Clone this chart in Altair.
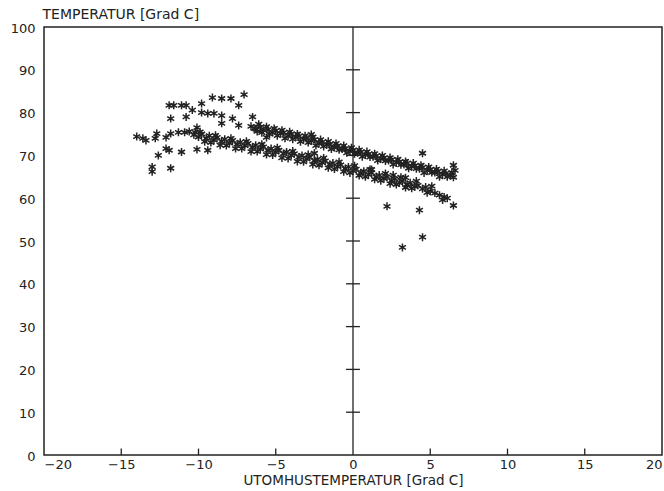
import altair as alt
import pandas as pd

# Scattered points (mostly on the cold side, and a few outliers)
scatter_x = [-7.05, -9.1, -8.5, -7.9, -7.4, -11.9, -11.6, -11.1, -10.8, -9.8,
             -10.4, -11.8, -10.8, -9.8, -9.4, -9.0, -8.5, -7.8, -8.5, -7.4,
             -6.5, -6.4, -10.1, -14.0, -13.6, -13.4, -12.8, -12.7, -11.8, -12.1,
             -11.3, -10.9, -10.6, -10.2, -12.1, -11.9, -11.1, -10.1, -9.4, -12.6,
             -13.0, -13.0, -11.8, -5.6, -2.7, -2.5, 1.2, 4.5, 6.5, 2.2,
             4.3, 6.5, 4.5, 3.2, 2.6, 3.4]
scatter_y = [84.2, 83.5, 83.3, 83.3, 81.7, 81.7, 81.7, 81.7, 81.7, 82.1,
             80.6, 78.6, 79.0, 80.0, 79.8, 79.8, 79.3, 78.6, 77.5, 77.0,
             79.0, 76.3, 76.5, 74.4, 74.0, 73.5, 74.0, 75.1, 75.1, 74.2,
             75.4, 75.4, 75.6, 75.4, 71.6, 71.2, 70.8, 71.4, 71.2, 70.0,
             67.3, 66.2, 67.0, 74.2, 74.9, 70.5, 66.7, 70.5, 67.7, 58.1,
             57.2, 58.3, 50.9, 48.5, 65.4, 64.8]

# Upper band
upper_x = [-6.6, -6.3, -6.0, -5.8, -5.5, -5.2, -5.0, -4.7, -4.5, -4.2,
           -4.0, -3.7, -3.5, -3.2, -3.0, -2.7, -2.5, -2.2, -2.0, -1.7,
           -1.5, -1.2, -1.0, -0.7, -0.5, -0.2, 0.0, 0.3, 0.5, 0.8,
           1.0, 1.3, 1.5, 1.8, 2.0, 2.3, 2.5, 2.8, 3.0, 3.3,
           3.5, 3.8, 4.0, 4.3, 4.5, 4.8, 5.0, 5.3, 5.5, 5.8,
           6.0, 6.3, 6.5, 6.6, -6.2, -5.4, -4.4, -3.4, -2.4, -1.4,
           -0.4, 0.6, 1.6, 2.6, 3.6, 4.6, 5.6,
           -6.1, -5.6, -5.1, -4.6, -4.1, -3.6, -3.1, -2.6, -2.1, -1.6,
           -1.1, -0.6, -0.1, 0.4, 0.9, 1.4, 1.9, 2.4, 2.9, 3.4,
           3.9, 4.4, 4.9, 5.4, 5.9, 6.4,
           -5.9, -4.9, -3.9, -2.9, -1.9, -0.9, 0.1, 1.1, 2.1, 3.1,
           4.1, 5.1, 6.1]
upper_y = [76.8, 76.2, 76.6, 75.9, 76.0, 75.4, 75.8, 75.1, 75.3, 74.6,
           75.0, 74.3, 74.5, 73.8, 74.0, 73.4, 73.7, 72.9, 73.1, 72.5,
           72.6, 71.9, 72.2, 71.5, 71.6, 71.0, 71.2, 70.6, 70.8, 70.1,
           70.3, 69.7, 69.9, 69.2, 69.4, 68.8, 69.0, 68.3, 68.5, 67.9,
           68.2, 67.4, 67.6, 66.9, 67.2, 66.5, 66.7, 66.0, 66.3, 65.6,
           65.8, 65.3, 64.9, 66.5, 75.6, 75.0, 74.0, 73.2, 72.3, 71.5,
           70.6, 69.7, 68.8, 67.9, 67.0, 65.9, 65.0,
           77.3, 76.7, 76.3, 75.9, 75.5, 75.0, 74.6, 74.3, 73.7, 73.3,
           72.8, 72.3, 71.8, 71.3, 70.9, 70.4, 70.0, 69.5, 69.1, 68.6,
           68.2, 67.7, 67.3, 66.8, 66.4, 66.0,
           75.3, 74.6, 73.8, 73.0, 72.1, 71.3, 70.4, 69.6, 68.7, 67.8,
           66.9, 66.0, 65.0]

# Lower band
lower_x = [-10.3, -10.0, -9.8, -9.5, -9.3, -9.0, -8.8, -8.5, -8.3, -8.0,
           -7.8, -7.5, -7.3, -7.0, -6.8, -6.5, -6.3, -6.0, -5.8, -5.5,
           -5.3, -5.0, -4.8, -4.5, -4.3, -4.0, -3.8, -3.5, -3.3, -3.0,
           -2.8, -2.5, -2.3, -2.0, -1.8, -1.5, -1.3, -1.0, -0.8, -0.5,
           -0.3, 0.0, 0.2, 0.5, 0.7, 1.0, 1.2, 1.5, 1.7, 2.0,
           2.2, 2.5, 2.7, 3.0, 3.2, 3.5, 3.7, 4.0, 4.2, 4.5,
           4.7, 5.0, 5.3, 5.6, 5.9, 6.1, -9.6, -8.6, -7.6, -6.6,
           -5.6, -4.6, -3.6, -2.6, -1.6, -0.6, 0.4, 1.4, 2.4, 3.4,
           -9.9, -8.9, -7.9, -6.9, -5.9, -4.9, -3.9, -2.9, -1.9, -0.9,
           0.1, 1.1, 2.1, 3.1, 4.1, 5.1,
           -9.2, -8.2, -7.2, -6.2, -5.2, -4.2, -3.2, -2.2, -1.2, -0.2,
           0.8, 1.8, 2.8, 3.8, 4.8, 5.8]
lower_y = [74.8, 74.3, 75.0, 74.0, 74.6, 73.6, 74.2, 73.3, 73.8, 72.9,
           73.5, 72.6, 73.1, 72.3, 72.8, 71.9, 72.4, 71.5, 72.0, 71.2,
           71.6, 70.8, 71.2, 70.4, 70.8, 70.0, 70.4, 69.6, 70.0, 69.2,
           69.6, 68.8, 69.1, 68.3, 68.7, 67.9, 68.2, 67.4, 67.8, 66.9,
           67.3, 66.4, 66.8, 65.9, 66.3, 65.5, 65.9, 65.0, 65.4, 64.6,
           65.0, 64.1, 64.5, 63.6, 64.0, 63.2, 63.6, 62.7, 63.0, 62.2,
           62.6, 61.6, 61.2, 60.7, 60.3, 60.0, 73.2, 72.4, 71.6, 70.9,
           70.2, 69.4, 68.6, 67.9, 67.1, 66.2, 65.3, 64.4, 63.4, 62.5,
           75.5, 74.7, 74.0, 73.3, 72.6, 71.8, 71.0, 70.2, 69.4, 68.5,
           67.6, 66.7, 65.8, 64.9, 64.0, 62.8,
           73.0, 72.3, 71.6, 70.9, 70.1, 69.3, 68.5, 67.7, 66.8, 65.9,
           65.0, 64.1, 63.2, 62.3, 61.3, 59.6]

x_ticks = [-20, -15, -10, -5, 0, 5, 10, 15, 20]
y_ticks = [0, 10, 20, 30, 40, 50, 60, 70, 80, 90, 100]
inner_x_ticks = [-15, -10, -5, 5, 10, 15]
zero_line_ticks = [10, 20, 30, 40, 50, 60, 70, 80, 90]

pts = pd.DataFrame({
    "x": scatter_x + upper_x + lower_x,
    "y": scatter_y + upper_y + lower_y,
})

FONT = "DejaVu Sans"
INK = "#222222"
ASTERISK = "M0,-1L0,1M-0.87,-0.5L0.87,0.5M-0.87,0.5L0.87,-0.5"

xscale = alt.Scale(domain=[-20, 20], nice=False, zero=False)
yscale = alt.Scale(domain=[0, 100], nice=False)

points = alt.Chart(pts).mark_point(
    shape=ASTERISK, filled=False, stroke=INK, strokeWidth=1.5, size=64, opacity=1
).encode(
    x=alt.X("x:Q", scale=xscale, title="UTOMHUSTEMPERATUR  [Grad C]",
            axis=alt.Axis(values=x_ticks, ticks=False, domain=False, grid=False,
                          labelFont=FONT, labelFontSize=13, labelColor=INK,
                          labelPadding=3, titleFont=FONT, titleFontSize=13.5,
                          titleFontWeight="normal", titleColor=INK, titlePadding=2,
                          labelFlush=True)),
    y=alt.Y("y:Q", scale=yscale, title="TEMPERATUR  [Grad C]",
            axis=alt.Axis(values=y_ticks, ticks=False, domain=False, grid=False,
                          labelFont=FONT, labelFontSize=13, labelColor=INK,
                          labelPadding=9, labelOffset=1, titleFont=FONT, titleFontSize=14,
                          titleFontWeight="normal", titleColor=INK,
                          titleAngle=0, titleAlign="left", titleBaseline="middle",
                          titleX=-2, titleY=-13)),
)

zero_line = alt.Chart(pd.DataFrame({"x": [0], "y": [0], "y2": [100]})).mark_rule(
    color=INK, strokeWidth=1.3
).encode(x=alt.X("x:Q", scale=xscale), y=alt.Y("y:Q", scale=yscale), y2="y2:Q")

zt = pd.DataFrame({"y": zero_line_ticks,
                   "x1": [-0.45] * len(zero_line_ticks),
                   "x2": [0.45] * len(zero_line_ticks)})
zero_ticks = alt.Chart(zt).mark_rule(color=INK, strokeWidth=1.3).encode(
    x=alt.X("x1:Q", scale=xscale), x2="x2:Q", y=alt.Y("y:Q", scale=yscale))

bt = pd.DataFrame({"x": inner_x_ticks, "y": [0] * len(inner_x_ticks),
                   "y2": [1.5] * len(inner_x_ticks)})
bottom_ticks = alt.Chart(bt).mark_rule(color=INK, strokeWidth=1.3).encode(
    x=alt.X("x:Q", scale=xscale), y=alt.Y("y:Q", scale=yscale), y2="y2:Q")

chart = alt.layer(zero_line, zero_ticks, bottom_ticks, points).properties(
    width=618, height=428,
    autosize=alt.AutoSizeParams(type="none"),
    padding={"left": 44, "top": 27, "right": 2, "bottom": 36},
    background="white",
).configure_view(stroke=INK, strokeWidth=1.5)

chart.save("out.html", embed_options={"renderer": "svg", "actions": False})
